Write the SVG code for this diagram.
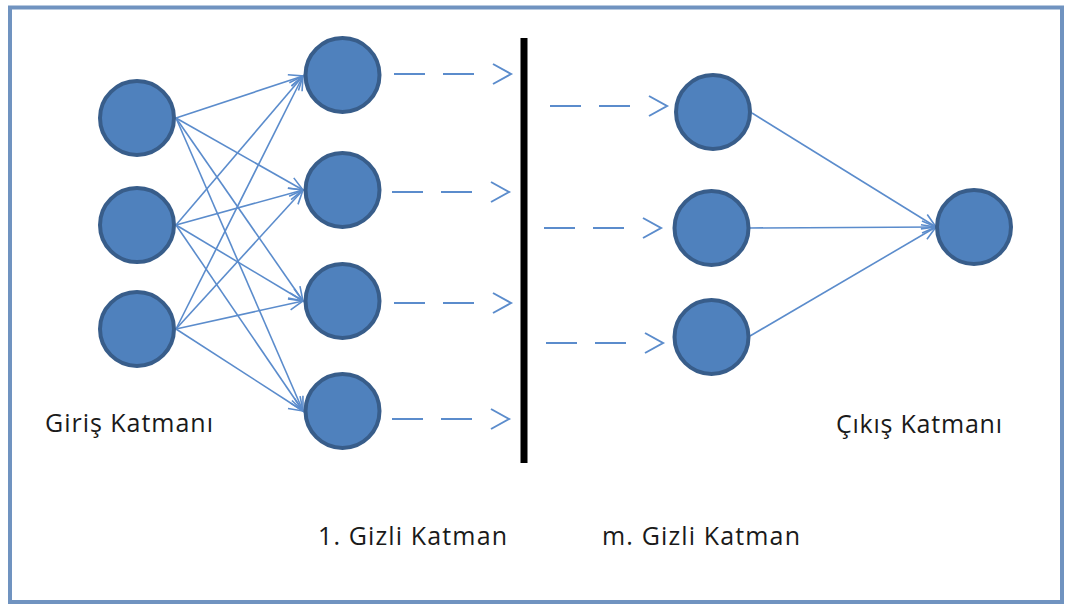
<svg xmlns="http://www.w3.org/2000/svg" width="1065" height="605" viewBox="0 0 1065 605">
<style>
.node{fill:#4f81bd;stroke:#385d8a;stroke-width:4}
.edge{stroke:#5b8ccc;stroke-width:1.6;fill:none}
.dash{stroke:#5b8ccc;stroke-width:2;fill:none;stroke-dasharray:31 18}
.lbl{font-family:"Open Sans","Noto Sans",sans-serif;font-size:25px;fill:#1a1a1a}
</style>
<defs>
<marker id="arr" markerUnits="userSpaceOnUse" markerWidth="20" markerHeight="20" refX="14" refY="6" orient="auto" overflow="visible">
<path d="M0,0 L14,6 L0,12" fill="none" stroke="#5b8ccc" stroke-width="1.6"/>
</marker>
<marker id="chev" markerUnits="userSpaceOnUse" markerWidth="40" markerHeight="24" refX="0" refY="0" orient="auto" overflow="visible">
<path d="M18,-10 L36,0 L18,10" fill="none" stroke="#5b8ccc" stroke-width="2"/>
</marker>
</defs>
<rect x="0" y="0" width="1065" height="605" fill="#ffffff"/>
<rect id="frame" x="10" y="7.5" width="1052" height="594.5" fill="none" stroke="#7093c0" stroke-width="4"/>
<g id="connectors">
<line class="edge" x1="176" y1="118" x2="303" y2="76" marker-end="url(#arr)"/>
<line class="edge" x1="176" y1="118" x2="303" y2="190" marker-end="url(#arr)"/>
<line class="edge" x1="176" y1="118" x2="303" y2="301" marker-end="url(#arr)"/>
<line class="edge" x1="176" y1="118" x2="303" y2="411" marker-end="url(#arr)"/>
<line class="edge" x1="176" y1="225" x2="303" y2="76" marker-end="url(#arr)"/>
<line class="edge" x1="176" y1="225" x2="303" y2="190" marker-end="url(#arr)"/>
<line class="edge" x1="176" y1="225" x2="303" y2="301" marker-end="url(#arr)"/>
<line class="edge" x1="176" y1="225" x2="303" y2="411" marker-end="url(#arr)"/>
<line class="edge" x1="176" y1="329" x2="303" y2="76" marker-end="url(#arr)"/>
<line class="edge" x1="176" y1="329" x2="303" y2="190" marker-end="url(#arr)"/>
<line class="edge" x1="176" y1="329" x2="303" y2="301" marker-end="url(#arr)"/>
<line class="edge" x1="176" y1="329" x2="303" y2="411" marker-end="url(#arr)"/>
<line class="dash" x1="394" y1="74" x2="475" y2="74" marker-end="url(#chev)"/>
<line class="dash" x1="392" y1="192" x2="473" y2="192" marker-end="url(#chev)"/>
<line class="dash" x1="394" y1="303" x2="475" y2="303" marker-end="url(#chev)"/>
<line class="dash" x1="392" y1="419" x2="473" y2="419" marker-end="url(#chev)"/>
<line class="dash" x1="550" y1="106" x2="631" y2="106" marker-end="url(#chev)"/>
<line class="dash" x1="544" y1="228" x2="625" y2="228" marker-end="url(#chev)"/>
<line class="dash" x1="546" y1="343" x2="627" y2="343" marker-end="url(#chev)"/>
<line class="edge" x1="752" y1="113" x2="936" y2="227" marker-end="url(#arr)"/>
<line class="edge" x1="750" y1="228" x2="936" y2="227" marker-end="url(#arr)"/>
<line class="edge" x1="750" y1="336" x2="936" y2="227" marker-end="url(#arr)"/>
</g>
<rect id="separator" x="520.5" y="38" width="7" height="425" fill="#000000"/>
<g id="in1"><circle class="node" cx="137" cy="118" r="37"/></g>
<g id="in2"><circle class="node" cx="137" cy="225" r="37"/></g>
<g id="in3"><circle class="node" cx="137" cy="329" r="37"/></g>
<g id="h1a"><circle class="node" cx="342.5" cy="75" r="37"/></g>
<g id="h1b"><circle class="node" cx="342.5" cy="190" r="37"/></g>
<g id="h1c"><circle class="node" cx="342.5" cy="301" r="37"/></g>
<g id="h1d"><circle class="node" cx="342.5" cy="411" r="37"/></g>
<g id="hma"><circle class="node" cx="713" cy="112" r="37"/></g>
<g id="hmb"><circle class="node" cx="711.5" cy="228" r="37"/></g>
<g id="hmc"><circle class="node" cx="711.5" cy="337" r="37"/></g>
<g id="out"><circle class="node" cx="974" cy="227" r="37"/></g>
<text class="lbl" x="45" y="432" textLength="168" lengthAdjust="spacing">Giriş Katmanı</text>
<text class="lbl" x="836" y="433" textLength="166" lengthAdjust="spacing">Çıkış Katmanı</text>
<text class="lbl" x="318" y="545" textLength="189" lengthAdjust="spacing">1. Gizli Katman</text>
<text class="lbl" x="602" y="545" textLength="198" lengthAdjust="spacing">m. Gizli Katman</text>
</svg>
